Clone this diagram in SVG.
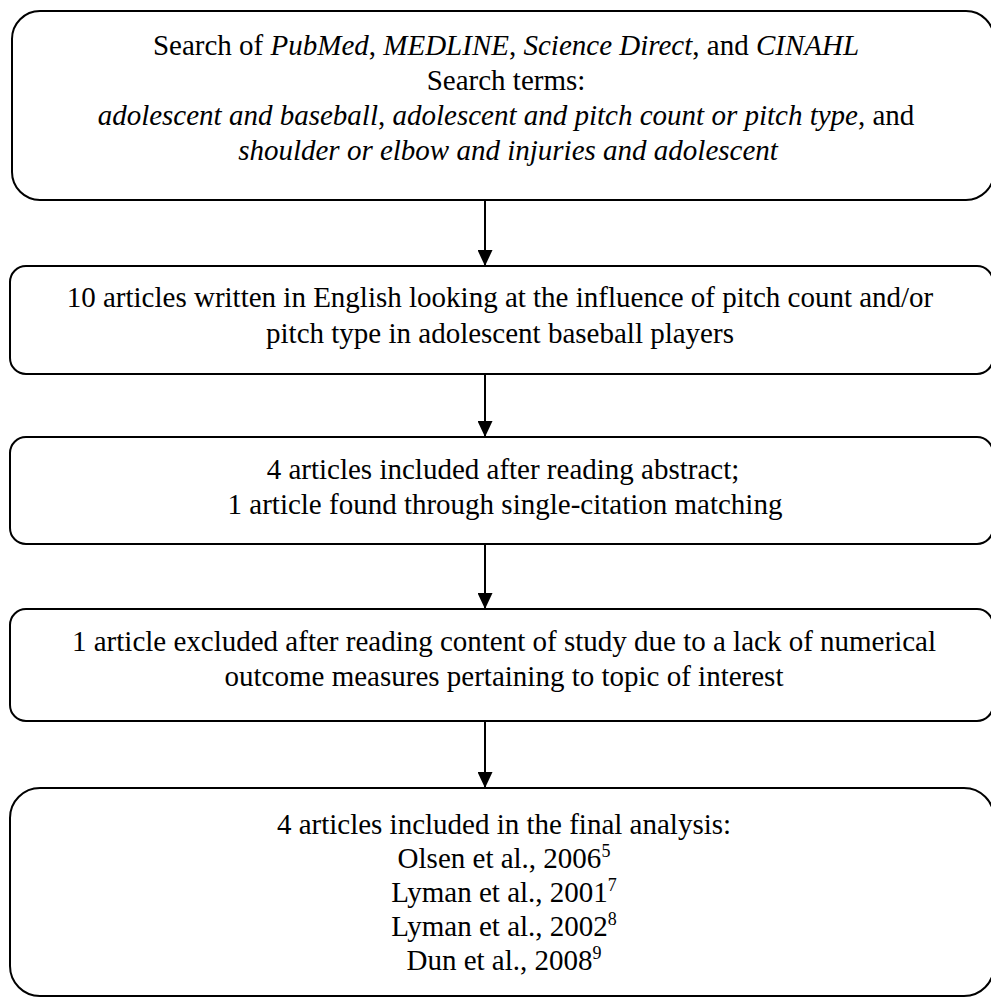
<svg xmlns="http://www.w3.org/2000/svg" width="991" height="998" viewBox="0 0 991 998">
<style>
.box{fill:#fff;stroke:#000;stroke-width:2}
.t{font-family:"Liberation Serif","Times New Roman",serif;font-size:29px;fill:#000;text-anchor:middle}
.i{font-style:italic}
.sup{font-size:18px}
.conn{stroke:#000;stroke-width:2;fill:none}
</style>
<defs>
<marker id="ah" viewBox="0 0 16 15" refX="16" refY="7.5" markerWidth="16" markerHeight="15" markerUnits="userSpaceOnUse" orient="auto">
<path d="M0,0 L16,7.5 L0,15 Z" fill="#000"/>
</marker>
</defs>
<rect width="991" height="998" fill="#fff"/>
<g id="connectors">
<line class="conn" x1="485" y1="200" x2="485" y2="266" marker-end="url(#ah)"/>
<line class="conn" x1="485" y1="374" x2="485" y2="437" marker-end="url(#ah)"/>
<line class="conn" x1="485" y1="544" x2="485" y2="609" marker-end="url(#ah)"/>
<line class="conn" x1="485" y1="721" x2="485" y2="788" marker-end="url(#ah)"/>
</g>
<g id="n1">
<rect class="box" x="12" y="11" width="982" height="189" rx="28"/>
<text class="t" x="506" y="55">Search of <tspan class="i">PubMed</tspan>, <tspan class="i">MEDLINE</tspan>, <tspan class="i">Science Direct</tspan>, and <tspan class="i">CINAHL</tspan></text>
<text class="t" x="506" y="90">Search terms:</text>
<text class="t" x="506" y="125"><tspan class="i">adolescent and baseball</tspan>, <tspan class="i">adolescent and pitch count or pitch type</tspan>, and</text>
<text class="t" x="508" y="160"><tspan class="i">shoulder or elbow and injuries and adolescent</tspan></text>
</g>
<g id="n2">
<rect class="box" x="10" y="266" width="983" height="108" rx="16"/>
<text class="t" x="500" y="307">10 articles written in English looking at the influence of pitch count and/or</text>
<text class="t" x="500" y="343">pitch type in adolescent baseball players</text>
</g>
<g id="n3">
<rect class="box" x="10" y="437" width="983" height="107" rx="16"/>
<text class="t" x="503" y="479">4 articles included after reading abstract;</text>
<text class="t" x="505" y="514">1 article found through single-citation matching</text>
</g>
<g id="n4">
<rect class="box" x="10" y="609" width="983" height="112" rx="16"/>
<text class="t" x="504" y="651">1 article excluded after reading content of study due to a lack of numerical</text>
<text class="t" x="504" y="686">outcome measures pertaining to topic of interest</text>
</g>
<g id="n5">
<rect class="box" x="10" y="788" width="984" height="208" rx="30"/>
<text class="t" x="504" y="834">4 articles included in the final analysis:</text>
<text class="t" x="504" y="868">Olsen et al., 2006<tspan class="sup" dy="-11">5</tspan></text>
<text class="t" x="504" y="902">Lyman et al., 2001<tspan class="sup" dy="-11">7</tspan></text>
<text class="t" x="504" y="936">Lyman et al., 2002<tspan class="sup" dy="-11">8</tspan></text>
<text class="t" x="504" y="970">Dun et al., 2008<tspan class="sup" dy="-11">9</tspan></text>
</g>
</svg>
